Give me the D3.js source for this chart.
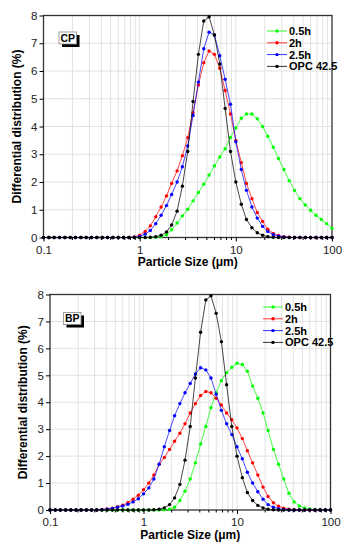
<!DOCTYPE html>
<html>
<head>
<meta charset="utf-8">
<script src="https://cdn.jsdelivr.net/npm/d3@7"></script>
<style>
  body { margin: 0; background: #fff; }
  svg { font-family: "Liberation Sans", Arial, sans-serif; }
</style>
</head>
<body>
<svg id="chart" width="349" height="550"></svg>
<script>
// particle size channels (um)
const sizes = [0.1, 0.114, 0.129, 0.147, 0.167, 0.19, 0.215, 0.245, 0.278, 0.316, 0.359, 0.408, 0.464, 0.527, 0.599, 0.681, 0.774, 0.88,
  1.0, 1.14, 1.29, 1.47, 1.67, 1.9, 2.15, 2.45, 2.78, 3.16, 3.59, 4.08, 4.64, 5.27, 5.99, 6.81, 7.74, 8.8,
  10, 11.4, 12.9, 14.7, 16.7, 19.0, 21.5, 24.5, 27.8, 31.6, 35.9, 40.8, 46.4, 52.7, 59.9, 68.1, 77.4, 88.0, 100];

const seriesNames = ["0.5h", "2h", "2.5h", "OPC 42.5"];
const seriesColors = ["#00ff00", "#ff0000", "#0000ff", "#000000"];
const yTicks = [0, 1, 2, 3, 4, 5, 6, 7, 8];
const xTicks = [0.1, 1, 10, 100];
const xTickLabels = ["0.1", "1", "10", "100"];

// CP panel
const cp05h = [0,0,0,0,0,0,0,0,0,0,0,0,0,0,0,0,0,0,0,0,0,
  0.01,0.03,0.1,0.28,0.52,0.78,1.02,1.32,1.62,1.92,
  2.25,2.58,2.9,3.2,3.6,3.95,4.3,4.45,4.45,4.28,
  4.0,3.65,3.25,2.85,2.45,2.05,1.7,1.4,1.17,0.98,
  0.8,0.65,0.5,0.33];
const cp2h = [0,0,0,0,0,0,0,0,0,0,0,0,0,0,0,0,0,
  0.02,0.08,0.22,0.42,0.75,1.1,1.5,1.95,2.4,2.95,
  3.6,4.5,5.5,6.3,6.72,6.6,6.1,5.3,4.45,3.5,
  2.7,1.95,1.4,0.9,0.58,0.3,0.15,0.07,0.03,0.01,
  0,0,0,0,0,0,0,0];
const cp25h = [0,0,0,0,0,0,0,0,0,0,0,0,0,0,0,0,0,
  0.01,0.04,0.12,0.25,0.5,0.8,1.15,1.55,2.0,2.55,
  3.3,4.4,5.6,6.8,7.4,7.3,6.55,5.7,4.8,3.45,
  2.45,1.7,1.1,0.7,0.4,0.22,0.1,0.05,0.02,
  0,0,0,0,0,0,0,0,0];
// reference cement, same in both panels
const opc = [0,0,0,0,0,0,0,0,0,0,0,0,0,0,0,0,0,0,0,0,
  0.01,0.03,0.08,0.2,0.45,0.95,1.85,3.1,4.9,6.6,
  7.8,7.95,7.3,6.25,4.65,3.1,2.0,1.2,0.65,0.35,
  0.17,0.08,0.03,0.01,
  0,0,0,0,0,0,0,0,0,0,0];

// BP panel
const bp05h = [0,0,0,0,0,0,0,0,0,0,0,0,0,0,0,0,0,0,0,0,0,0,
  0.01,0.03,0.1,0.35,0.7,1.15,1.75,2.45,3.1,3.8,
  4.35,4.8,5.1,5.3,5.45,5.4,5.15,4.6,4.15,3.6,
  2.95,2.25,1.7,1.15,0.62,0.3,0.15,0.08,0.04,0.02,
  0.01,0,0];
const bp2h = [0,0,0,0,0,0,0,0,0,0,
  0.02,0.04,0.07,0.12,0.18,0.27,0.4,0.55,0.75,1.0,
  1.3,1.7,1.95,2.25,2.55,2.85,3.2,3.6,3.95,4.25,
  4.4,4.35,4.15,3.9,3.6,3.35,3.05,2.65,2.2,1.75,
  1.3,0.85,0.5,0.27,0.14,0.07,0.03,0.01,
  0,0,0,0,0,0,0];
const bp25h = [0,0,0,0,0,0,0,0,0,0,
  0.01,0.03,0.06,0.1,0.15,0.21,0.3,0.42,0.6,0.82,
  1.15,1.7,2.35,2.95,3.5,3.95,4.35,4.7,5.05,5.28,
  5.2,4.9,4.3,3.7,3.2,2.8,2.35,1.9,1.4,1.0,
  0.68,0.4,0.2,0.1,0.05,0.02,
  0,0,0,0,0,0,0,0,0];

const panels = [
  { tag: "CP", series: [cp05h, cp2h, cp25h, opc],
    left: 43.5, right: 332, top: 15.5, bottom: 237.5,
    tagX: 59, tagY: 32, legX: 267, legY: 31, yTitleX: 17, xTitleY: 266 },
  { tag: "BP", series: [bp05h, bp2h, bp25h, opc],
    left: 50, right: 330.5, top: 294.5, bottom: 510,
    tagX: 63.5, tagY: 312.5, legX: 263, legY: 307, yTitleX: 23, xTitleY: 539 }
];

const svg = d3.select("#chart");

panels.forEach(p => {
  const x = d3.scaleLog().domain([0.1, 100]).range([p.left, p.right]);
  const y = d3.scaleLinear().domain([0, 8]).range([p.bottom, p.top]);
  const g = svg.append("g");

  // grid
  const minor = x.ticks();
  g.append("g").selectAll("line").data(minor.filter(d => d > 0.1 && d < 100)).join("line")
    .attr("x1", d => x(d)).attr("x2", d => x(d))
    .attr("y1", p.top).attr("y2", p.bottom)
    .attr("stroke", "#e2e2e2").attr("stroke-width", 1);
  g.append("g").selectAll("line").data(yTicks.slice(1, -1)).join("line")
    .attr("x1", p.left).attr("x2", p.right)
    .attr("y1", d => y(d)).attr("y2", d => y(d))
    .attr("stroke", "#e2e2e2").attr("stroke-width", 1);

  // frame
  g.append("rect")
    .attr("x", p.left).attr("y", p.top)
    .attr("width", p.right - p.left).attr("height", p.bottom - p.top)
    .attr("fill", "none").attr("stroke", "#333").attr("stroke-width", 1.3);

  // x axis
  const xAxis = d3.axisBottom(x).tickValues(xTicks).tickFormat((d, i) => xTickLabels[i]).tickSize(4).tickPadding(4);
  const xa = g.append("g").attr("transform", `translate(0,${p.bottom})`).call(xAxis);
  xa.select(".domain").remove();
  xa.selectAll("text").attr("font-size", 11.5).attr("fill", "#222").attr("font-family", "Liberation Sans, Arial, sans-serif");
  g.append("g").selectAll("line").data(minor.filter(d => !xTicks.includes(d))).join("line")
    .attr("x1", d => x(d)).attr("x2", d => x(d))
    .attr("y1", p.bottom).attr("y2", p.bottom + 2.5)
    .attr("stroke", "#000");

  // y axis
  const yAxis = d3.axisLeft(y).tickValues(yTicks).tickSize(4).tickPadding(2);
  const ya = g.append("g").attr("transform", `translate(${p.left},0)`).call(yAxis);
  ya.select(".domain").remove();
  ya.selectAll("text").attr("font-size", 11.5).attr("fill", "#222").attr("font-family", "Liberation Sans, Arial, sans-serif");

  // titles
  g.append("text")
    .attr("transform", `translate(${p.yTitleX},${(p.top + p.bottom) / 2}) rotate(-90)`)
    .attr("text-anchor", "middle").attr("dy", "0.35em")
    .attr("font-size", 12).attr("font-weight", "bold")
    .text("Differential distribution (%)");
  g.append("text")
    .attr("x", (p.left + p.right) / 2).attr("y", p.xTitleY)
    .attr("text-anchor", "middle")
    .attr("font-size", 12).attr("font-weight", "bold")
    .text("Particle Size (\u03bcm)");

  // series
  const line = d3.line().x(d => x(d[0])).y(d => y(d[1]));
  p.series.forEach((vals, i) => {
    const pts = sizes.map((s, j) => [s, vals[j]]);
    const sg = g.append("g");
    sg.append("path").datum(pts).attr("d", line)
      .attr("fill", "none").attr("stroke", seriesColors[i]).attr("stroke-width", 0.9).attr("stroke-opacity", 0.8);
    sg.selectAll("circle").data(pts).join("circle")
      .attr("cx", d => x(d[0])).attr("cy", d => y(d[1]))
      .attr("r", 1.7).attr("fill", seriesColors[i]);
  });

  // legend
  const leg = g.append("g").attr("transform", `translate(${p.legX},${p.legY})`);
  seriesNames.forEach((name, i) => {
    const row = leg.append("g").attr("transform", `translate(0,${i * 11.8})`);
    row.append("line").attr("x1", 0).attr("x2", 20).attr("y1", 0).attr("y2", 0)
      .attr("stroke", seriesColors[i]).attr("stroke-width", 1).attr("stroke-opacity", 0.8);
    row.append("circle").attr("cx", 10).attr("cy", 0).attr("r", 1.7).attr("fill", seriesColors[i]);
    row.append("text").attr("x", 22).attr("y", 0).attr("dy", "0.36em")
      .attr("font-size", 11).attr("font-weight", "bold").text(name);
  });

  // sample tag box
  const tg = g.append("g").attr("transform", `translate(${p.tagX},${p.tagY})`);
  tg.append("rect").attr("x", 3).attr("y", 3).attr("width", 17.5).attr("height", 12).attr("fill", "#000");
  tg.append("rect").attr("x", 0).attr("y", 0).attr("width", 17.5).attr("height", 12)
    .attr("fill", "#fff").attr("stroke", "#888").attr("stroke-width", 0.8);
  tg.append("text").attr("x", 8.75).attr("y", 6.2).attr("dy", "0.35em").attr("text-anchor", "middle")
    .attr("font-size", 10.5).attr("font-weight", "bold").text(p.tag);
});
</script>
</body>
</html>
